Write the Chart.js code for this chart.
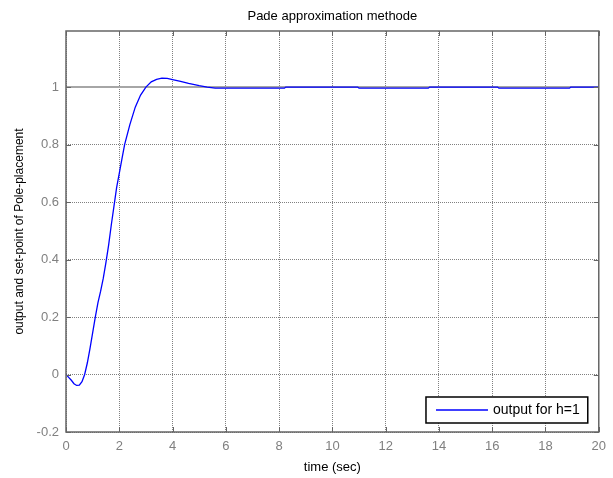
<!DOCTYPE html>
<html>
<head>
<meta charset="utf-8">
<script src="https://cdn.jsdelivr.net/npm/chart.js@4/dist/chart.umd.min.js"></script>
<style>
  html, body { margin: 0; padding: 0; background: #fff; }
  #wrap { width: 613px; height: 478px; }
</style>
</head>
<body>
<div id="wrap"><canvas id="c" width="613" height="478"></canvas></div>
<script>
// Step response of the pole-placement loop (Pade approximation)
const timeSec = [0, 0.1, 0.2, 0.3, 0.4, 0.5, 0.6, 0.7, 0.8, 0.9, 1.0, 1.1, 1.2, 1.3, 1.4,
  1.5, 1.6, 1.7, 1.8, 1.9, 2.0, 2.1, 2.2, 2.4, 2.6, 2.8, 3.0, 3.2, 3.4, 3.6, 3.8, 4.0,
  4.3, 4.6, 5.0, 5.3, 5.6, 8.2, 8.25, 10.95, 11.0, 13.6, 13.65, 16.2, 16.25, 18.9, 18.95, 20];
const outputVals = [0, -0.01, -0.02, -0.032, -0.038, -0.037, -0.025, 0.0, 0.04, 0.09, 0.145, 0.2, 0.25, 0.29, 0.335,
  0.39, 0.45, 0.52, 0.585, 0.65, 0.70, 0.75, 0.80, 0.87, 0.93, 0.972, 1.0, 1.018, 1.027, 1.031, 1.03, 1.026,
  1.02, 1.013, 1.005, 1.0, 0.996, 0.996, 1.0, 1.0, 0.996, 0.996, 1.0, 1.0, 0.996, 0.996, 1.0, 1.0];
const setPointTime = [0, 20];
const setPointVals = [1, 1];

const yTickValues = [-0.2, 0, 0.2, 0.4, 0.6, 0.8, 1];
const xTickValues = [0, 2, 4, 6, 8, 10, 12, 14, 16, 18, 20];

const titleText = 'Pade approximation methode';
const xLabel = 'time (sec)';
const yLabel = 'output and set-point of Pole-placement';
const seriesLabel = 'output for h=1';

const FONT = 'Arial, "Liberation Sans", Helvetica, sans-serif';

const zip = (xs, ys) => xs.map((v, i) => ({ x: v, y: ys[i] }));

// frame, inward tick marks, centred title and the boxed legend
const decorPlugin = {
  id: 'decor',
  afterDraw(chart) {
    const { ctx, chartArea: a, scales } = chart;
    const xs = scales.x, ys = scales.y;
    ctx.save();

    // inward tick marks on all four sides
    ctx.strokeStyle = '#666';
    ctx.lineWidth = 1;
    ctx.beginPath();
    const tl = 5;
    xs.ticks.forEach(t => {
      const px = Math.round(xs.getPixelForValue(t.value)) + 0.5;
      ctx.moveTo(px, a.bottom); ctx.lineTo(px, a.bottom - tl);
      ctx.moveTo(px, a.top); ctx.lineTo(px, a.top + tl);
    });
    ys.ticks.forEach(t => {
      const py = Math.round(ys.getPixelForValue(t.value)) + 0.5;
      ctx.moveTo(a.left, py); ctx.lineTo(a.left + tl, py);
      ctx.moveTo(a.right, py); ctx.lineTo(a.right - tl, py);
    });
    ctx.stroke();

    // axes box
    ctx.strokeStyle = '#666';
    ctx.lineWidth = 1.5;
    ctx.strokeRect(a.left, a.top, a.right - a.left, a.bottom - a.top);

    // title centred over the plot area
    ctx.fillStyle = '#000';
    ctx.font = '13px ' + FONT;
    ctx.textAlign = 'center';
    ctx.textBaseline = 'middle';
    ctx.fillText(titleText, (a.left + a.right) / 2, 16);

    // legend box in the lower right corner
    const ds = chart.data.datasets[0];
    ctx.font = '14px ' + FONT;
    const tw = ctx.measureText(ds.label).width;
    const boxW = 10 + 52 + 5 + tw + 8;
    const boxH = 26;
    const bx = a.right - 11 - boxW;
    const by = a.bottom - 9 - boxH;
    ctx.fillStyle = '#fff';
    ctx.fillRect(bx, by, boxW, boxH);
    ctx.strokeStyle = '#000';
    ctx.lineWidth = 1.5;
    ctx.strokeRect(bx, by, boxW, boxH);
    ctx.strokeStyle = ds.borderColor;
    ctx.lineWidth = 1.3;
    ctx.beginPath();
    ctx.moveTo(bx + 10, by + boxH / 2);
    ctx.lineTo(bx + 62, by + boxH / 2);
    ctx.stroke();
    ctx.fillStyle = '#000';
    ctx.textAlign = 'left';
    ctx.textBaseline = 'middle';
    ctx.fillText(ds.label, bx + 67, by + boxH / 2 + 0.5);

    ctx.restore();
  }
};

const gridStyle = {
  color: '#808080',
  lineWidth: 1,
  drawTicks: false,
  tickLength: 0
};

new Chart(document.getElementById('c'), {
  type: 'line',
  data: {
    datasets: [
      {
        label: seriesLabel,
        data: zip(timeSec, outputVals),
        borderColor: '#0000ff',
        borderWidth: 1.3,
        pointRadius: 0,
        tension: 0,
        fill: false,
        order: 0
      },
      {
        label: 'set-point',
        data: zip(setPointTime, setPointVals),
        borderColor: '#a6a6a6',
        borderWidth: 2,
        pointRadius: 0,
        tension: 0,
        fill: false,
        order: 1
      }
    ]
  },
  options: {
    responsive: false,
    animation: false,
    layout: { padding: { top: 31, right: 14, bottom: 0, left: 0 } },
    plugins: {
      legend: { display: false },
      title: { display: false },
      tooltip: { enabled: false }
    },
    scales: {
      x: {
        type: 'linear',
        min: 0,
        max: 20,
        afterBuildTicks: s => { s.ticks = xTickValues.map(v => ({ value: v })); },
        afterFit: s => { s.height = 46; },
        grid: Object.assign({}, gridStyle),
        border: { display: false, dash: [1, 1] },
        ticks: {
          color: '#808080',
          font: { family: FONT, size: 13 },
          padding: 7,
          maxRotation: 0,
          callback: v => String(v)
        },
        title: {
          display: true,
          text: xLabel,
          color: '#000',
          font: { family: FONT, size: 13 },
          padding: { top: 0, bottom: 3 }
        }
      },
      y: {
        type: 'linear',
        min: -0.2,
        max: 1.195,
        afterBuildTicks: s => { s.ticks = yTickValues.map(v => ({ value: v })); },
        afterFit: s => { s.width = 66; },
        grid: Object.assign({}, gridStyle),
        border: { display: false, dash: [1, 1] },
        ticks: {
          color: '#808080',
          font: { family: FONT, size: 13 },
          padding: 7,
          callback: v => String(Number(v.toFixed(1)))
        },
        title: {
          display: true,
          text: yLabel,
          color: '#000',
          font: { family: FONT, size: 12 },
          padding: { top: 12, bottom: 0 }
        }
      }
    }
  },
  plugins: [decorPlugin]
});
</script>
</body>
</html>
